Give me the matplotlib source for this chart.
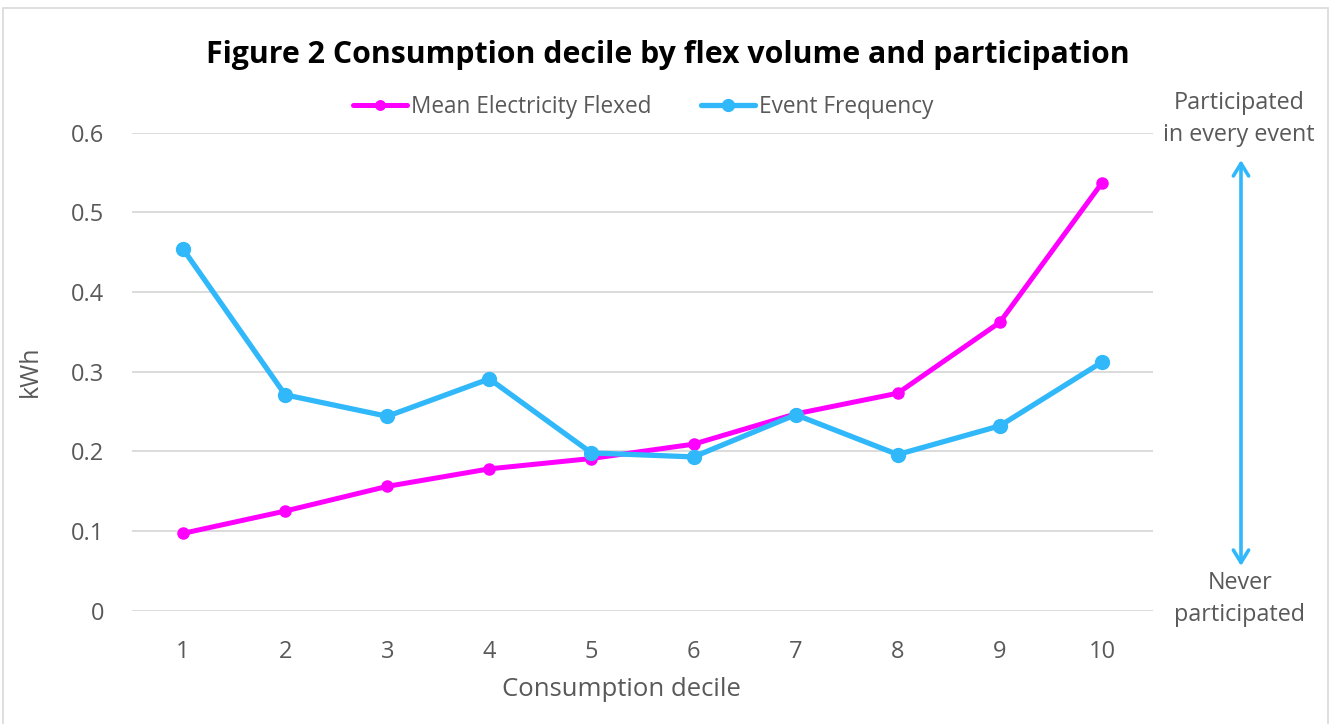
import matplotlib
matplotlib.use("Agg")
import matplotlib.pyplot as plt
from matplotlib.patches import Rectangle

plt.rcParams['font.family'] = ['Open Sans', 'DejaVu Sans']

deciles = [1, 2, 3, 4, 5, 6, 7, 8, 9, 10]
tick_labels = ["1", "2", "3", "4", "5", "6", "7", "8", "9", "10"]
mean_flexed = [0.097, 0.125, 0.156, 0.178, 0.191, 0.209, 0.247, 0.273, 0.362, 0.537]
event_freq = [0.454, 0.271, 0.244, 0.291, 0.198, 0.193, 0.246, 0.196, 0.232, 0.312]
y_ticks = [0, 0.1, 0.2, 0.3, 0.4, 0.5, 0.6]
y_tick_labels = ["0", "0.1", "0.2", "0.3", "0.4", "0.5", "0.6"]

PINK = "#FF00FF"
BLUE = "#30B8FA"
GRAY_TEXT = "#595959"
GRID = "#D9D9D9"

W, H = 1333, 724
fig = plt.figure(figsize=(W / 100, H / 100), dpi=100)

def fx(x):
    return x / W

def fy(y):
    return 1 - y / H

# outer chart border
fig.patches.append(Rectangle((fx(3), fy(735)), fx(1328) - fx(3), fy(8) - fy(735),
                             transform=fig.transFigure, fill=False,
                             edgecolor="#D9D9D9", lw=1.2))

left, right, top, bottom = 132, 1153, 132.8, 610.6
ax = fig.add_axes([fx(left), fy(bottom), fx(right) - fx(left), fy(top) - fy(bottom)])

ax.plot(deciles, mean_flexed, color=PINK, lw=3.6, marker='o', ms=8,
        label="Mean Electricity Flexed", solid_capstyle='round', zorder=3)
ax.plot(deciles, event_freq, color=BLUE, lw=3.8, marker='o', ms=10,
        label="Event Frequency", solid_capstyle='round', zorder=4)

ax.set_xlim(0.5, 10.5)
ax.set_ylim(0, 0.6)
ax.set_yticks(y_ticks)
ax.set_yticklabels(y_tick_labels)
ax.set_xticks(deciles)
ax.set_xticklabels(tick_labels)
ax.grid(axis='y', color=GRID, lw=1.3)
ax.set_axisbelow(True)
for s in ax.spines.values():
    s.set_visible(False)
ax.tick_params(axis='both', length=0, labelsize=17, labelcolor=GRAY_TEXT)
ax.tick_params(axis='y', pad=20)
ax.tick_params(axis='x', pad=21)

ax.set_ylabel("kWh", fontsize=18, color=GRAY_TEXT)
ax.yaxis.set_label_coords((43 - left) / (right - left), 0.5)
fig.text(fx(621), fy(690), "Consumption decile", fontsize=18.5, color=GRAY_TEXT,
         ha='center', va='center')

fig.text(fx(668), fy(55), "Figure 2 Consumption decile by flex volume and participation",
         fontsize=21.8, fontweight='bold', color='black', ha='center', va='center')

leg = fig.legend(loc='center', bbox_to_anchor=(fx(643), fy(107)), ncol=2, frameon=False,
                 fontsize=16.3, handlelength=2.4, handletextpad=0.15, columnspacing=2.2,
                 markerscale=0.85)
for t in leg.get_texts():
    t.set_color(GRAY_TEXT)

# right-hand annotation
fig.text(fx(1239), fy(119), "Participated\nin every event", fontsize=16.8, color=GRAY_TEXT,
         ha='center', va='center', linespacing=1.4)
fig.text(fx(1240), fy(599), "Never\nparticipated", fontsize=16.8, color=GRAY_TEXT,
         ha='center', va='center', linespacing=1.4)
ax.annotate("", xy=(fx(1241), fy(160)), xytext=(fx(1241), fy(566)),
            xycoords='figure fraction', textcoords='figure fraction',
            arrowprops=dict(arrowstyle='<->,head_length=0.9,head_width=0.55',
                            color=BLUE, lw=2.6, shrinkA=0, shrinkB=0),
            annotation_clip=False)

fig.savefig("out.png", dpi=100)
